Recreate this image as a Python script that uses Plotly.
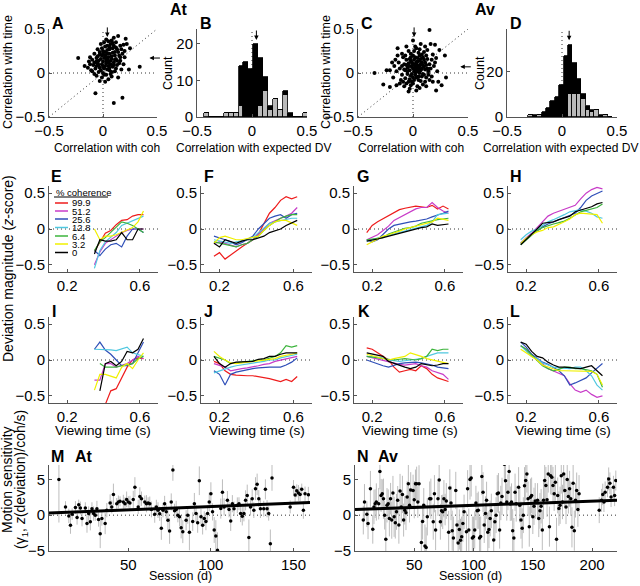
import plotly.graph_objects as go

W, H = 640, 586
FONT = "Liberation Sans, Arial, Helvetica, sans-serif"
AXC = "#555555"

# ---------------- data ----------------
# Panel A (At): correlation with coh (x) vs correlation with time (y)
A_points = [
    (-0.23, 0.17), (0.34, 0.07), (0.24, 0.04), (-0.07, -0.23), (0.18, -0.28), (0.10, -0.34),
    (0.21, 0.39), (0.10, 0.40), (0.22, 0.33), (0.25, 0.28), (0.14, 0.42), (0.08, 0.37),
    (0.05, 0.36), (-0.02, 0.33), (0.12, 0.35), (0.16, 0.31), (0.02, 0.30), (0.06, 0.30),
    (0.09, 0.28), (0.13, 0.27), (-0.05, 0.27), (0.00, 0.25), (0.04, 0.26), (0.11, 0.24),
    (0.18, 0.22), (0.20, 0.18), (0.15, 0.20), (-0.08, 0.22), (-0.03, 0.21), (0.02, 0.20),
    (0.06, 0.22), (0.08, 0.19), (0.12, 0.16), (0.16, 0.14), (-0.10, 0.15), (-0.06, 0.17),
    (-0.02, 0.16), (0.01, 0.17), (0.04, 0.15), (0.07, 0.14), (0.10, 0.12), (0.03, 0.11),
    (-0.12, 0.10), (-0.09, 0.09), (-0.05, 0.11), (-0.01, 0.10), (0.05, 0.08), (0.09, 0.07),
    (0.13, 0.09), (-0.14, 0.06), (-0.07, 0.05), (-0.03, 0.06), (0.01, 0.05), (0.06, 0.03),
    (0.11, 0.02), (-0.11, 0.03), (-0.04, 0.01), (0.00, 0.00), (0.03, -0.02), (0.08, -0.04),
    (-0.06, -0.03), (-0.01, -0.05), (0.05, -0.07), (0.02, -0.10), (-0.03, -0.09), (0.14, -0.05),
    (0.17, 0.04), (0.19, 0.10), (-0.17, 0.08), (-0.13, 0.13), (0.07, 0.33), (0.03, 0.38),
    (-0.01, 0.28), (0.10, 0.31), (0.14, 0.24), (0.00, 0.13), (0.02, 0.08), (0.07, 0.10),
    (0.05, 0.18), (0.09, 0.23), (-0.04, 0.14), (-0.08, 0.12), (0.11, 0.20), (0.04, 0.22),
    (-0.02, 0.03), (0.06, 0.27), (0.12, 0.05), (-0.10, 0.02), (0.15, 0.11), (0.01, 0.35),
    (0.08, 0.16), (-0.05, 0.19), (0.03, 0.14), (-0.06, 0.08), (0.10, 0.09), (0.13, 0.14),
    (0.02, 0.24), (0.17, 0.27), (-0.01, 0.20), (0.05, 0.12), (0.08, 0.01), (-0.03, 0.24),
    (0.00, 0.07), (0.04, 0.04), (-0.08, -0.01), (0.07, -0.01), (0.12, 0.29), (0.19, 0.32),
    (0.06, 0.06), (-0.12, 0.18), (0.01, -0.02), (0.09, 0.34), (0.04, 0.31), (-0.04, 0.09),
    (0.11, 0.15), (0.16, 0.18), (0.20, 0.25), (-0.06, 0.13), (0.03, 0.17), (0.00, 0.22),
]
A_mean_coh, A_mean_time = 0.04, 0.17

# Panel C (Av)
C_points = [
    (0.15, 0.49), (-0.35, 0.00), (-0.24, 0.03), (-0.21, 0.03), (-0.27, -0.13), (-0.21, -0.16),
    (-0.15, -0.14), (-0.14, 0.28), (0.18, -0.10), (0.21, -0.20), (0.26, -0.14), (0.30, -0.05),
    (0.29, 0.20), (0.24, 0.26), (0.20, 0.32), (0.16, 0.33), (0.00, 0.37), (0.02, 0.30),
    (-0.12, 0.05), (-0.10, -0.02), (-0.08, 0.10), (-0.07, -0.06), (-0.06, 0.15), (-0.05, 0.02),
    (-0.04, -0.10), (-0.03, 0.08), (-0.02, -0.03), (-0.01, 0.12), (0.00, 0.05), (0.01, -0.08),
    (0.02, 0.18), (0.03, 0.01), (0.04, 0.09), (0.05, -0.04), (0.06, 0.14), (0.07, 0.03),
    (0.08, 0.21), (0.09, -0.01), (0.10, 0.07), (0.11, 0.12), (0.12, -0.05), (0.13, 0.16),
    (0.14, 0.02), (0.15, 0.10), (-0.09, 0.18), (-0.11, -0.08), (-0.13, 0.12), (-0.06, -0.12),
    (-0.02, 0.22), (0.01, 0.25), (0.04, -0.15), (0.07, -0.09), (0.10, 0.24), (0.12, 0.20),
    (0.16, 0.05), (0.17, 0.15), (0.19, 0.08), (-0.15, 0.02), (-0.17, 0.08), (-0.08, -0.15),
    (-0.03, -0.18), (0.00, -0.12), (0.03, 0.28), (0.06, 0.27), (0.09, 0.18), (0.11, -0.10),
    (0.14, -0.02), (-0.04, 0.25), (-0.05, 0.06), (-0.03, 0.03), (-0.01, 0.07), (0.01, 0.02),
    (0.02, 0.09), (0.03, 0.05), (0.04, 0.13), (0.05, 0.06), (0.06, 0.00), (0.07, 0.10),
    (0.08, 0.05), (0.02, -0.02), (0.00, 0.10), (-0.02, 0.14), (0.04, 0.17), (0.06, 0.20),
    (0.08, 0.12), (-0.07, 0.03), (-0.04, 0.11), (0.01, 0.15), (0.03, -0.05), (0.05, 0.03),
    (0.09, 0.09), (0.11, 0.04), (-0.01, -0.01), (-0.03, -0.07), (0.00, -0.05), (0.02, 0.04),
    (0.04, 0.02), (0.06, 0.08), (0.07, 0.16), (0.10, 0.15), (0.12, 0.09), (0.13, 0.05),
    (-0.06, 0.09), (-0.08, 0.04), (-0.10, 0.08), (-0.02, 0.18), (0.00, 0.20), (0.05, 0.23),
    (0.08, -0.04), (0.10, -0.02), (0.05, -0.08), (-0.01, -0.10), (0.03, 0.12), (-0.05, -0.01),
    (0.02, 0.07), (0.04, 0.06), (0.01, 0.10), (-0.03, 0.16), (-0.18, -0.05), (-0.16, 0.15),
    (-0.12, -0.12), (-0.10, 0.22), (-0.07, 0.20), (0.13, 0.26), (0.18, 0.21), (0.20, 0.12),
    (0.22, 0.02), (0.15, -0.08), (0.09, -0.13), (0.06, -0.17), (-0.02, -0.14), (-0.09, -0.10),
    (0.17, -0.04), (0.21, 0.17), (-0.14, 0.20), (-0.19, 0.12), (0.11, 0.30), (0.07, 0.33),
    (-0.06, 0.30), (0.23, -0.10), (0.12, -0.15), (-0.04, -0.21), (0.03, -0.20),
]
C_mean_coh, C_mean_time = 0.01, 0.07

# Panels B, D: histograms of correlation with expected DV (gray + black stacked)
B_centers = [-0.415, -0.370, -0.325, -0.280, -0.235, -0.190, -0.145, -0.100, -0.055, -0.010,
             0.035, 0.080, 0.125, 0.170, 0.215, 0.260, 0.305, 0.350, 0.395, 0.440, 0.485]
B_gray = [1, 0, 0, 0, 1, 1, 1, 3, 0, 0, 0, 3, 7, 2, 5, 2, 6, 0, 0, 0, 1]
B_black = [0, 0, 0, 0, 0, 0, 0, 11, 15, 13, 20, 13, 4, 1, 0, 0, 1, 1, 0, 0, 0]
B_mean = 0.04

D_centers = [-0.285, -0.245, -0.205, -0.165, -0.125, -0.085, -0.045, -0.005, 0.035, 0.075,
             0.115, 0.155, 0.195, 0.235, 0.275, 0.315, 0.355, 0.395, 0.435]
D_gray = [1, 0, 1, 0, 0, 0, 0, 0, 0, 10, 10, 10, 8, 3, 2, 3, 0, 1, 0]
D_black = [0, 1, 0, 2, 4, 7, 9, 14, 27, 22, 14, 7, 2, 2, 1, 0, 1, 0, 0]
D_mean = 0.065

# Panels E-L: deviation magnitude (z-score) vs viewing time, by % coherence
coh_labels = ["99.9", "51.2", "25.6", "12.8", "6.4", "3.2", "0"]
coh_colors = ["#ee1c1c", "#c83cc8", "#2f4fb8", "#50c8e0", "#3cb43c", "#f0f000", "#000000"]

t_short = [0.35, 0.38, 0.41, 0.44, 0.47, 0.50, 0.53, 0.56, 0.59, 0.62]
t_long = [0.17, 0.20, 0.23, 0.26, 0.29, 0.32, 0.35, 0.38, 0.41, 0.44, 0.47, 0.50, 0.53, 0.56, 0.59, 0.62]

E_dev = {
    "99.9": [-0.31, -0.18, -0.06, -0.02, 0.06, 0.12, 0.13, 0.18, 0.20, 0.20],
    "51.2": [-0.50, -0.32, -0.20, -0.15, -0.10, -0.05, -0.02, 0.00, 0.00, 0.00],
    "25.6": [-0.30, -0.37, -0.28, -0.22, -0.20, -0.25, -0.10, 0.00, 0.00, -0.05],
    "12.8": [-0.55, -0.30, -0.18, -0.12, -0.05, 0.05, 0.08, 0.12, 0.15, 0.18],
    "6.4": [-0.30, -0.18, -0.12, -0.05, 0.02, 0.10, 0.08, 0.05, 0.00, -0.05],
    "3.2": [0.00, -0.15, -0.10, -0.10, -0.08, -0.05, -0.02, 0.02, 0.10, 0.25],
    "0": [-0.35, -0.15, -0.17, -0.17, -0.15, -0.05, -0.15, -0.15, 0.00, 0.00],
}
F_dev = {
    "99.9": [-0.38, -0.33, -0.42, -0.36, -0.30, -0.25, -0.20, -0.15, -0.07, 0.08, 0.22, 0.30, 0.40, 0.45, 0.42, 0.45],
    "51.2": [-0.20, -0.18, -0.20, -0.22, -0.25, -0.22, -0.20, -0.15, -0.08, 0.00, 0.08, 0.12, 0.15, 0.18, 0.22, 0.30],
    "25.6": [-0.10, -0.12, -0.15, -0.18, -0.22, -0.19, -0.15, -0.10, 0.00, 0.08, 0.15, 0.18, 0.20, 0.15, 0.20, 0.22],
    "12.8": [-0.15, -0.17, -0.18, -0.20, -0.18, -0.17, -0.15, -0.12, -0.05, 0.02, 0.08, 0.10, 0.12, 0.13, 0.15, 0.15],
    "6.4": [-0.18, -0.20, -0.22, -0.24, -0.25, -0.22, -0.20, -0.15, -0.10, -0.02, 0.05, 0.10, 0.15, 0.18, 0.20, 0.20],
    "3.2": [-0.20, -0.12, -0.10, -0.12, -0.15, -0.15, -0.13, -0.12, -0.10, -0.02, 0.05, 0.10, 0.12, 0.12, 0.08, 0.05],
    "0": [-0.20, -0.25, -0.15, -0.18, -0.20, -0.17, -0.15, -0.15, -0.12, -0.10, -0.05, -0.02, 0.00, 0.05, 0.08, 0.12],
}
G_dev = {
    "99.9": [-0.05, 0.05, 0.10, 0.14, 0.18, 0.22, 0.27, 0.29, 0.30, 0.32, 0.31, 0.30, 0.33, 0.28, 0.32, 0.28],
    "51.2": [-0.15, -0.12, -0.08, -0.02, 0.04, 0.12, 0.16, 0.20, 0.24, 0.28, 0.30, 0.30, 0.37, 0.30, 0.25, 0.22],
    "25.6": [-0.15, -0.18, -0.15, -0.08, 0.00, 0.05, 0.07, 0.09, 0.10, 0.11, 0.12, 0.14, 0.17, 0.19, 0.22, 0.25],
    "12.8": [-0.17, -0.15, -0.13, -0.11, -0.08, -0.07, -0.05, -0.02, 0.00, 0.02, 0.04, 0.05, 0.10, 0.20, 0.21, 0.22],
    "6.4": [-0.15, -0.14, -0.13, -0.12, -0.07, -0.04, -0.02, 0.01, 0.02, 0.04, 0.08, 0.10, 0.12, 0.13, 0.14, 0.15],
    "3.2": [-0.22, -0.18, -0.14, -0.10, -0.08, -0.06, -0.03, 0.00, 0.02, 0.04, 0.06, 0.08, 0.10, 0.15, 0.14, 0.12],
    "0": [-0.17, -0.16, -0.14, -0.12, -0.10, -0.08, -0.05, -0.03, -0.01, 0.00, 0.02, 0.03, 0.07, 0.05, 0.06, 0.07],
}
H_dev = {
    "51.2": [-0.20, -0.12, -0.06, 0.02, 0.10, 0.18, 0.22, 0.25, 0.28, 0.30, 0.33, 0.42, 0.50, 0.55, 0.58, 0.56],
    "25.6": [-0.20, -0.13, -0.07, -0.03, 0.03, 0.07, 0.10, 0.14, 0.17, 0.19, 0.22, 0.30, 0.40, 0.46, 0.50, 0.53],
    "12.8": [-0.15, -0.08, -0.03, 0.00, 0.05, 0.10, 0.13, 0.16, 0.20, 0.24, 0.26, 0.27, 0.25, 0.22, 0.17, 0.15],
    "6.4": [-0.22, -0.15, -0.08, -0.02, 0.02, 0.05, 0.07, 0.09, 0.11, 0.15, 0.20, 0.24, 0.26, 0.28, 0.30, 0.35],
    "3.2": [-0.20, -0.13, -0.08, -0.04, -0.02, 0.02, 0.03, 0.06, 0.10, 0.14, 0.20, 0.22, 0.21, 0.20, 0.20, 0.08],
    "0": [-0.22, -0.15, -0.07, 0.00, 0.08, 0.09, 0.10, 0.13, 0.15, 0.18, 0.24, 0.26, 0.28, 0.31, 0.35, 0.37],
}
I_dev = {
    "99.9": [None, None, -0.62, -0.43, -0.40, -0.25, -0.10, 0.00, 0.03, 0.02],
    "51.2": [-0.28, -0.28, -0.05, -0.05, -0.10, -0.08, -0.05, 0.00, 0.05, 0.02],
    "25.6": [0.15, 0.25, 0.14, 0.08, 0.00, -0.08, -0.08, -0.05, 0.10, 0.25],
    "12.8": [0.15, 0.15, 0.15, 0.14, 0.13, 0.15, 0.18, 0.10, 0.07, 0.05],
    "6.4": [None, -0.05, -0.10, -0.10, -0.10, -0.08, -0.06, -0.05, 0.02, 0.05],
    "3.2": [-0.42, -0.20, -0.20, -0.22, -0.25, -0.10, -0.05, -0.12, 0.00, 0.10],
    "0": [None, -0.43, -0.05, -0.02, -0.08, -0.02, 0.12, 0.10, 0.15, 0.30],
}
J_dev = {
    "99.9": [-0.02, -0.05, -0.15, -0.20, -0.21, -0.22, -0.22, -0.22, -0.23, -0.25, -0.26, -0.28, -0.30, -0.27, -0.30, -0.23],
    "51.2": [-0.05, -0.08, -0.10, -0.15, -0.13, -0.12, -0.11, -0.10, -0.08, -0.06, -0.05, -0.02, 0.00, 0.02, 0.04, 0.05],
    "25.6": [-0.15, -0.20, -0.35, -0.20, -0.17, -0.15, -0.13, -0.12, -0.11, -0.10, -0.10, -0.10, -0.10, -0.07, -0.03, 0.03],
    "12.8": [-0.18, -0.15, -0.12, -0.10, -0.08, -0.07, -0.06, -0.05, -0.04, -0.02, 0.00, 0.00, 0.03, 0.05, 0.07, 0.08],
    "6.4": [0.05, 0.02, 0.00, -0.05, -0.04, -0.02, -0.02, -0.01, 0.00, 0.00, 0.02, 0.05, 0.10, 0.20, 0.18, 0.20],
    "3.2": [0.12, 0.05, 0.00, -0.04, -0.05, -0.04, -0.03, -0.02, -0.01, 0.00, 0.01, 0.02, 0.05, 0.06, 0.08, 0.10],
    "0": [0.05, -0.05, -0.10, -0.05, -0.03, -0.03, -0.02, -0.02, 0.01, 0.02, 0.05, 0.05, 0.08, 0.10, 0.10, 0.10],
}
K_dev = {
    "99.9": [0.17, 0.15, 0.10, 0.05, 0.00, -0.10, -0.17, -0.15, -0.13, -0.15, -0.08, -0.12, -0.20, -0.25, -0.28, -0.30],
    "51.2": [0.05, 0.03, 0.01, 0.00, -0.03, -0.05, -0.06, -0.07, -0.06, -0.05, -0.08, -0.10, -0.15, -0.17, -0.20, -0.27],
    "25.6": [0.00, -0.03, -0.06, -0.08, -0.10, -0.07, -0.05, -0.04, -0.03, -0.03, -0.04, -0.05, -0.07, -0.10, -0.11, -0.12],
    "12.8": [0.05, 0.04, 0.03, 0.03, 0.00, -0.01, -0.02, -0.01, 0.00, 0.00, 0.02, 0.05, 0.08, 0.10, 0.10, 0.10],
    "6.4": [0.05, 0.04, 0.03, 0.02, 0.00, 0.00, 0.01, 0.02, 0.01, 0.00, 0.02, 0.05, 0.15, 0.13, 0.15, 0.15],
    "3.2": [0.08, 0.06, 0.05, 0.03, 0.00, 0.02, 0.04, 0.05, 0.10, 0.08, 0.05, 0.02, 0.00, -0.02, -0.04, -0.05],
    "0": [0.10, 0.08, 0.06, 0.05, -0.02, -0.05, -0.08, -0.10, -0.12, -0.10, -0.05, -0.06, -0.08, -0.07, -0.05, -0.05],
}
L_dev = {
    "51.2": [0.20, 0.15, 0.08, 0.02, -0.05, -0.12, -0.15, -0.18, -0.22, -0.33, -0.42, -0.45, -0.42, -0.48, -0.52, -0.50],
    "25.6": [0.25, 0.18, 0.08, 0.03, -0.03, -0.06, -0.10, -0.15, -0.22, -0.35, -0.32, -0.28, -0.25, -0.18, -0.12, -0.05],
    "12.8": [0.20, 0.13, 0.05, 0.02, -0.04, -0.07, -0.10, -0.11, -0.12, -0.12, -0.10, -0.10, -0.15, -0.22, -0.35, -0.42],
    "6.4": [0.20, 0.15, 0.07, 0.00, -0.08, -0.12, -0.15, -0.13, -0.10, -0.10, -0.12, -0.12, -0.13, -0.15, -0.20, -0.38],
    "3.2": [0.15, 0.10, 0.04, 0.00, -0.07, -0.10, -0.12, -0.15, -0.15, -0.15, -0.15, -0.15, -0.15, -0.16, -0.20, -0.35],
    "0": [0.25, 0.22, 0.12, 0.05, 0.03, -0.03, -0.07, -0.10, -0.10, -0.11, -0.12, -0.12, -0.10, -0.08, -0.15, -0.22],
}

# Panels M, N: motion sensitivity per session (session, value, error)
M_sessions = [
    (8, 4.97, 6.0), (12, 1.15, 0.8), (14, -0.10, 1.0), (15, -1.40, 1.2), (16, 0.14, 0.8), (18, 1.06, 0.9),
    (19, -0.32, 1.0), (20, 1.47, 0.7), (21, 1.00, 0.9), (22, -0.46, 1.1), (24, 1.00, 0.8), (25, -1.15, 1.3),
    (26, 0.23, 1.0), (27, -0.92, 1.2), (28, 0.90, 0.9), (29, 0.23, 1.0), (30, 0.00, 0.8), (31, 0.90, 1.1),
    (32, -0.60, 1.0), (33, -2.60, 2.0), (34, -0.46, 1.0), (36, -1.15, 1.5), (37, 0.70, 1.0), (39, 1.70, 1.2),
    (40, 1.15, 0.9), (41, 2.90, 1.5), (43, 1.60, 0.8), (44, 1.84, 0.9), (45, 1.93, 0.7), (47, 1.84, 1.0),
    (48, 1.60, 0.9), (49, 2.20, 1.1), (50, 1.84, 0.8), (51, 1.70, 1.0), (53, 2.20, 1.2), (54, 3.90, 1.4),
    (56, 1.15, 1.0), (57, 2.60, 1.3), (58, 2.30, 1.0), (60, 1.84, 0.9), (61, 1.60, 1.2), (62, 1.70, 0.8),
    (63, 1.60, 1.0), (64, 0.80, 1.1), (66, 0.14, 1.2), (67, 1.15, 1.0), (68, 0.70, 1.1), (69, 0.20, 1.0),
    (70, -1.84, 1.6), (71, 0.70, 1.0), (72, 1.60, 1.1), (73, 0.46, 1.0), (74, -0.70, 1.4), (75, -2.20, 1.8),
    (76, 1.84, 1.2), (77, 6.30, 1.5), (78, 0.60, 1.0), (79, 0.80, 1.2), (80, 0.00, 1.0), (81, -0.23, 1.3),
    (82, -1.75, 1.5), (83, -2.30, 1.6), (85, -0.70, 1.4), (86, 0.00, 1.2), (87, -2.40, 2.5), (89, -0.90, 1.3),
    (90, 1.60, 1.5), (91, 0.23, 1.2), (92, -1.06, 1.4), (93, 4.80, 2.0), (94, -0.23, 1.1), (95, -1.40, 1.3),
    (96, -0.46, 1.0), (97, -0.90, 1.2), (98, 0.23, 1.1), (99, 1.84, 1.3), (100, 2.99, 1.6), (101, 0.46, 1.2),
    (102, -2.07, 1.8), (103, -2.90, 2.2), (104, -4.90, 2.5), (106, 0.92, 1.4), (107, 3.20, 1.8), (108, 1.15, 1.2),
    (110, 2.07, 1.3), (111, 0.80, 1.1), (112, -0.80, 1.4), (113, 1.60, 1.2), (114, 0.90, 1.0), (116, 1.38, 1.1),
    (117, 1.60, 0.9), (118, 0.23, 1.2), (119, -0.14, 1.3), (120, 0.23, 1.1), (121, 2.07, 1.4), (122, 2.76, 1.5),
    (123, -3.10, 2.5), (124, 1.15, 1.2), (125, 2.30, 1.3), (126, 0.70, 1.1), (127, 3.70, 1.6), (128, 4.30, 1.5),
    (129, 2.30, 1.2), (130, 0.90, 1.3), (132, 0.90, 1.1), (133, 3.60, 1.4), (134, 0.90, 1.2), (135, 0.23, 1.0),
    (136, -4.00, 2.0), (137, 5.20, 1.8), (148, 1.15, 0.9), (150, 3.90, 1.0), (151, 2.80, 1.2), (152, 3.40, 0.9),
    (153, 3.10, 1.1), (154, 2.90, 1.0), (155, 3.60, 0.8), (156, 0.70, 1.2), (157, 2.99, 1.0), (159, 2.85, 1.1),
]
M_fit_days, M_fit_vals = [2, 160], [0.30, 1.75]

N_sessions = [
    (7, -0.69, 2.0), (8, 1.84, 2.5), (10, 0.14, 1.8), (11, -1.15, 2.2), (13, 3.68, 2.5), (15, -1.98, 2.0),
    (16, 1.15, 2.4), (17, 1.60, 2.0), (18, 1.84, 2.6), (20, 1.60, 2.2), (21, 6.10, 2.5), (22, 2.76, 2.3),
    (23, 3.00, 2.0), (24, 2.30, 2.8), (25, 0.00, 2.0), (26, -3.36, 3.0), (27, 1.38, 2.4), (28, 1.60, 2.0),
    (29, -0.46, 2.5), (30, 2.30, 2.2), (31, -0.69, 2.6), (32, 3.08, 2.4), (33, -0.23, 2.8), (34, -1.06, 2.2),
    (35, 0.46, 2.5), (36, 2.07, 2.0), (37, -1.38, 2.6), (38, 3.36, 2.4), (39, 1.15, 2.2), (40, 2.90, 2.6),
    (41, -0.69, 2.3), (42, 0.69, 2.0), (43, 0.32, 2.4), (44, 2.53, 2.2), (45, 4.37, 2.8), (46, 1.38, 2.4),
    (47, 3.50, 2.5), (49, 3.45, 2.2), (50, 2.16, 2.6), (51, 4.37, 2.0), (52, 4.37, 2.4), (53, 1.84, 2.2),
    (54, 4.37, 2.6), (56, -3.80, 3.2), (57, -0.90, 2.5), (58, 1.38, 2.4), (59, -4.30, 3.0), (60, -4.50, 2.8),
    (61, -0.23, 2.6), (63, 2.30, 2.4), (64, 2.30, 2.8), (66, -0.92, 2.5), (67, 2.99, 2.6), (68, -2.07, 2.8),
    (70, 2.30, 2.4), (71, 4.90, 2.6), (72, -0.92, 2.5), (73, 0.60, 2.2), (74, 0.46, 2.4), (75, 2.30, 2.6),
    (76, 0.78, 2.2), (77, 1.98, 2.5), (79, -2.40, 3.0), (80, 3.80, 2.6), (81, 1.70, 2.4), (82, -2.16, 2.8),
    (83, -3.20, 3.0), (85, 3.45, 2.6), (86, -1.38, 2.5), (87, -3.90, 3.2), (88, -2.00, 2.8), (89, -3.50, 3.0),
    (90, -3.00, 2.8), (91, -1.15, 2.6), (92, 0.46, 2.4), (94, -2.30, 2.8), (95, 3.68, 2.6), (96, -2.07, 3.0),
    (97, 4.97, 2.8), (98, 5.20, 2.6), (99, -3.20, 3.0), (100, -3.00, 2.8), (101, -2.07, 2.6), (102, 1.70, 2.4),
    (103, 0.60, 2.5), (104, 0.69, 2.6), (105, -3.20, 3.0), (106, -2.99, 2.8), (107, 5.40, 2.6), (108, 3.20, 2.8),
    (109, -1.38, 2.5), (110, 0.23, 2.4), (111, 2.07, 2.6), (112, -2.40, 2.8), (113, -2.00, 2.6), (114, -0.46, 2.5),
    (115, 0.60, 2.4), (117, -3.45, 3.0), (118, -0.92, 2.6), (119, 0.00, 2.5), (120, 2.99, 2.6), (121, 3.08, 2.8),
    (122, -2.07, 2.6), (123, 1.70, 2.4), (124, 2.62, 2.6), (126, 7.10, 2.5), (127, 4.80, 2.8), (128, 1.84, 2.6),
    (129, 3.20, 2.5), (130, 6.10, 2.8), (131, 1.60, 2.4), (132, 1.84, 2.6), (133, -2.16, 3.0), (134, -3.20, 2.8),
    (135, 3.20, 2.6), (136, 1.60, 2.5), (138, 3.90, 2.8), (139, 1.38, 2.4), (140, -0.69, 2.6), (141, -1.84, 2.8),
    (142, 0.00, 2.5), (143, 4.10, 2.6), (144, 4.83, 2.8), (145, 5.75, 2.6), (146, 2.30, 2.4), (147, -1.60, 2.8),
    (148, 2.50, 2.6), (149, 2.76, 2.5), (150, -0.23, 2.4), (151, 1.24, 2.6), (152, 1.98, 2.5), (154, 2.07, 2.4),
    (155, -0.46, 2.6), (156, 0.60, 2.5), (157, 1.24, 2.4), (158, -2.07, 2.8), (159, 2.07, 2.6), (160, 4.83, 2.8),
    (161, 4.14, 2.6), (162, 2.16, 2.4), (163, 5.75, 2.6), (164, -1.60, 2.8), (165, 5.50, 2.6), (166, 5.30, 2.5),
    (167, 4.14, 2.6), (168, 2.99, 2.4), (169, 4.60, 2.6), (170, -3.36, 3.0), (171, 2.76, 2.5), (172, 0.92, 2.4),
    (173, 1.38, 2.6), (174, 5.50, 2.5), (175, 1.84, 2.4), (176, 5.75, 2.6), (177, 3.45, 2.5), (178, 1.15, 2.4),
    (179, 4.97, 2.6), (180, 2.62, 2.4), (181, 3.68, 2.5), (182, 2.30, 2.4), (183, -1.70, 2.8), (184, 4.46, 2.6),
    (185, -2.16, 2.8), (186, 2.07, 2.4), (187, 3.45, 2.5), (188, 0.78, 2.4), (189, 2.99, 2.6), (206, 0.69, 1.8),
    (208, 2.07, 1.6), (209, 2.90, 1.5), (210, 1.84, 1.4), (211, 3.20, 1.5), (213, 3.90, 1.4), (214, 5.06, 1.6),
    (215, 4.46, 1.5), (216, 2.53, 1.4), (218, 3.90, 1.6), (219, 2.76, 1.5), (220, 4.83, 1.4),
]
N_fit_days, N_fit_vals = [0, 221], [0.78, 2.07]

# ---------------- layout of panels (pixel boxes) ----------------
TICK_DEV = [-0.5, 0, 0.5]
panels = [
    # name, (left, right) px, (top, bottom) px, xrange, yrange, xticks, yticks
    ("A", (49, 157), (29, 117), [-0.5, 0.5], [-0.5, 0.5], [-0.5, 0, 0.5], [-0.5, 0, 0.5]),
    ("B", (197, 307), (29, 117), [-0.5, 0.5], [0, 24], [-0.5, 0, 0.5], [0, 10, 20]),
    ("C", (358, 468), (29, 117), [-0.5, 0.5], [-0.5, 0.5], [-0.5, 0, 0.5], [-0.5, 0, 0.5]),
    ("D", (507, 617), (29, 117), [-0.5, 0.5], [0, 39], [-0.5, 0, 0.5], [0, 20]),
    ("E", (49, 158), (186, 272), [0.1, 0.7], [-0.6, 0.6], [0.2, 0.6], TICK_DEV),
    ("F", (201, 312), (186, 272), [0.1, 0.7], [-0.6, 0.6], [0.2, 0.6], TICK_DEV),
    ("G", (354, 463), (186, 272), [0.1, 0.7], [-0.6, 0.6], [0.2, 0.6], TICK_DEV),
    ("H", (508, 617), (186, 272), [0.1, 0.7], [-0.6, 0.6], [0.2, 0.6], TICK_DEV),
    ("I", (49, 158), (317, 403), [0.1, 0.7], [-0.6, 0.6], [0.2, 0.6], TICK_DEV),
    ("J", (201, 312), (317, 403), [0.1, 0.7], [-0.6, 0.6], [0.2, 0.6], TICK_DEV),
    ("K", (354, 463), (317, 403), [0.1, 0.7], [-0.6, 0.6], [0.2, 0.6], TICK_DEV),
    ("L", (508, 617), (317, 403), [0.1, 0.7], [-0.6, 0.6], [0.2, 0.6], TICK_DEV),
    ("M", (49, 310), (465, 551), [2, 160], [-5, 7], [50, 100, 150], [-5, 0, 5]),
    ("N", (355, 617), (465, 551), [0, 221], [-5, 7], [50, 100, 150, 200], [-5, 0, 5]),
]
idx = {p[0]: i + 1 for i, p in enumerate(panels)}


def suf(i):
    return "" if i == 1 else str(i)


def xr(name):
    return "x" + suf(idx[name])


def yr(name):
    return "y" + suf(idx[name])


fig = go.Figure()

# --- scatter A, C
for name, pts in (("A", A_points), ("C", C_points)):
    fig.add_trace(go.Scatter(x=[p[0] for p in pts], y=[p[1] for p in pts], mode="markers",
                             marker=dict(color="black", size=4), xaxis=xr(name), yaxis=yr(name),
                             cliponaxis=False))

# --- histograms B, D
for name, cen, g, b, w in (("B", B_centers, B_gray, B_black, 0.045), ("D", D_centers, D_gray, D_black, 0.04)):
    fig.add_trace(go.Bar(x=cen, y=g, width=w, marker=dict(color="#b9b9b9", line=dict(color="black", width=0.8)),
                         xaxis=xr(name), yaxis=yr(name)))
    fig.add_trace(go.Bar(x=cen, y=b, width=w, marker=dict(color="black", line=dict(color="black", width=0.8)),
                         xaxis=xr(name), yaxis=yr(name)))

# --- deviation curves E-L
dev_panels = [("E", t_short, E_dev), ("F", t_long, F_dev), ("G", t_long, G_dev), ("H", t_long, H_dev),
              ("I", t_short, I_dev), ("J", t_long, J_dev), ("K", t_long, K_dev), ("L", t_long, L_dev)]
for name, tt, dd in dev_panels:
    for lab, col in zip(coh_labels, coh_colors):
        if lab not in dd:
            continue
        fig.add_trace(go.Scatter(x=tt, y=dd[lab], mode="lines", line=dict(color=col, width=1.2),
                                 xaxis=xr(name), yaxis=yr(name)))

# --- motion sensitivity M, N
for name, pts, fd, fv in (("M", M_sessions, M_fit_days, M_fit_vals), ("N", N_sessions, N_fit_days, N_fit_vals)):
    fig.add_trace(go.Scatter(x=[p[0] for p in pts], y=[p[1] for p in pts], mode="markers",
                             marker=dict(color="black", size=3.5),
                             error_y=dict(type="data", array=[p[2] for p in pts], color="#bdbdbd",
                                          thickness=1, width=0),
                             xaxis=xr(name), yaxis=yr(name)))
    fig.add_trace(go.Scatter(x=fd, y=fv, mode="lines", line=dict(color="black", width=3),
                             xaxis=xr(name), yaxis=yr(name)))

# ---------------- axes ----------------
common = dict(showline=True, linecolor=AXC, linewidth=1, ticks="inside", ticklen=3, tickcolor=AXC,
              tickwidth=1, showgrid=False, zeroline=False, fixedrange=True, automargin=False,
              tickfont=dict(family=FONT, size=15, color="black"))
axes = {}
for i, (name, (l, r), (t, b), xrng, yrng, xt, ytk) in enumerate(panels, start=1):
    axes["xaxis" + suf(i)] = dict(domain=[l / W, r / W], range=xrng, tickvals=xt,
                                  anchor="y" + suf(i), **common)
    axes["yaxis" + suf(i)] = dict(domain=[1 - b / H, 1 - t / H], range=yrng, tickvals=ytk,
                                  anchor="x" + suf(i), **common)

# ---------------- reference (dotted) lines ----------------
DOT = dict(color="#333333", width=1, dash="1px,3px")
shapes = []
for name in ("A", "C"):
    shapes.append(dict(type="line", xref=xr(name), yref=yr(name), x0=-0.5, x1=0.5, y0=0, y1=0, line=DOT, layer="below"))
    shapes.append(dict(type="line", xref=xr(name), yref=yr(name), x0=0, x1=0, y0=-0.5, y1=0.5, line=DOT, layer="below"))
    shapes.append(dict(type="line", xref=xr(name), yref=yr(name), x0=-0.5, x1=0.5, y0=-0.5, y1=0.5, line=DOT, layer="below"))
for name in ("B", "D"):
    shapes.append(dict(type="line", xref=xr(name), yref=yr(name) + " domain", x0=0, x1=0, y0=0, y1=1, line=DOT, layer="below"))
for name in "EFGHIJKLMN":
    shapes.append(dict(type="line", xref=xr(name) + " domain", yref=yr(name), x0=0, x1=1, y0=0, y1=0, line=DOT, layer="below"))

# ---------------- annotations ----------------
anns = []


def text(s, x, y, size, bold=False, angle=0, xanchor="center", yanchor="middle"):
    anns.append(dict(text=("<b>%s</b>" % s) if bold else s, x=x / W, y=1 - y / H, xref="paper", yref="paper",
                     showarrow=False, textangle=angle, xanchor=xanchor, yanchor=yanchor,
                     font=dict(family=FONT, size=size, color="black")))


# panel letters and group titles
for lab, x, y in (("A", 50, 23), ("B", 198, 23), ("C", 359, 23), ("D", 508, 23),
                  ("E", 49, 176), ("F", 202, 176), ("G", 355, 176), ("H", 508, 176),
                  ("I", 50, 311), ("J", 202, 311), ("K", 356, 311), ("L", 508, 311),
                  ("M", 49, 457), ("N", 355, 457)):
    text(lab, x, y, 16, bold=True, xanchor="left")
text("At", 179, 9, 16, bold=True)
text("Av", 485, 9, 16, bold=True)
text("At", 73, 457, 16, bold=True, xanchor="left")
text("Av", 376, 457, 16, bold=True, xanchor="left")

# axis titles
text("Correlation with time", 8, 72, 12.5, angle=-90)
text("Correlation with time", 326, 72, 12.5, angle=-90)
text("Count", 168, 73, 12.5, angle=-90)
text("Count", 480, 73, 12.5, angle=-90)
text("Correlation with coh", 107, 148, 12)
text("Correlation with coh", 411, 148, 12)
text("Correlation with expected DV", 253, 148, 12)
text("Correlation with expected DV", 560, 148, 12)
text("Deviation magnitude (<i>z</i>-score)", 8, 269, 14, angle=-90)
for cx in (103, 257, 410, 563):
    text("Viewing time (s)", cx, 431, 13.5)
text("Motion sensitivity", 7, 480, 14, angle=-90)
text("(γ<sub>1</sub>, <i>z</i>(deviation)/coh/s)", 21, 480, 14, angle=-90)
text("Session (d)", 180, 576, 12.5)
text("Session (d)", 470, 576, 12.5)

# legend in E
text("% coherence", 54, 192, 9.5, xanchor="left")
shapes.append(dict(type="line", xref="paper", yref="paper", x0=54 / W, x1=108 / W, y0=1 - 197 / H, y1=1 - 197 / H,
                   line=dict(color="black", width=1)))
leg_y = [203, 211, 219, 227.5, 236, 244, 252.5]
for lab, col, yy in zip(coh_labels, coh_colors, leg_y):
    shapes.append(dict(type="line", xref="paper", yref="paper", x0=55 / W, x1=68 / W, y0=1 - yy / H, y1=1 - yy / H,
                       line=dict(color=col, width=1.5)))
    text(lab, 70, yy, 9.5, xanchor="left")

# mean arrows
ARW = dict(showarrow=True, arrowhead=2, arrowsize=0.9, arrowwidth=1, arrowcolor="black", text="")
anns.append(dict(x=A_mean_coh, y=0.41, xref=xr("A"), yref=yr("A"), ax=0, ay=-11, **ARW))
anns.append(dict(x=0.43, y=A_mean_time, xref=xr("A"), yref=yr("A"), ax=12, ay=0, **ARW))
anns.append(dict(x=C_mean_coh, y=0.41, xref=xr("C"), yref=yr("C"), ax=0, ay=-11, **ARW))
anns.append(dict(x=0.43, y=C_mean_time, xref=xr("C"), yref=yr("C"), ax=12, ay=0, **ARW))
anns.append(dict(x=B_mean, y=21, xref=xr("B"), yref=yr("B"), ax=0, ay=-11, **ARW))
anns.append(dict(x=D_mean, y=34, xref=xr("D"), yref=yr("D"), ax=0, ay=-11, **ARW))

fig.update_layout(template="none", width=W, height=H, margin=dict(l=0, r=0, t=0, b=0, pad=0),
                  showlegend=False, paper_bgcolor="white", plot_bgcolor="white", barmode="stack", bargap=0,
                  font=dict(family=FONT, color="black"), shapes=shapes, annotations=anns, **axes)

fig.write_html("out.html", config={"displayModeBar": False},
               post_script="document.body.style.margin='0';document.body.style.overflow='hidden';")
